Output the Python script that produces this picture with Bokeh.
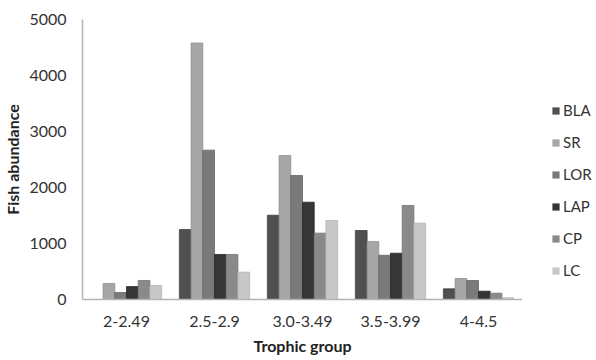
from bokeh.plotting import figure
from bokeh.models import ColumnDataSource, FactorRange, Range1d, Legend, LegendItem
from bokeh.layouts import row
from bokeh.transform import dodge
from bokeh.embed import file_html
from bokeh.resources import INLINE

groups = ["2-2.49", "2.5-2.9", "3.0-3.49", "3.5-3.99", "4-4.5"]
series = ["BLA", "SR", "LOR", "LAP", "CP", "LC"]
BLA = [0, 1250, 1505, 1232, 190]
SR = [286, 4580, 2571, 1036, 375]
LOR = [125, 2667, 2214, 791, 339]
LAP = [230, 804, 1738, 827, 148]
CP = [340, 804, 1185, 1679, 113]
LC = [250, 488, 1411, 1363, 30]
values = [BLA, SR, LOR, LAP, CP, LC]
y_ticks = [0, 1000, 2000, 3000, 4000, 5000]
colors = ["#505050", "#a6a6a6", "#7a7a7a", "#363636", "#8a8a8a", "#c8c8c8"]
edges = ["#404040", "#909090", "#666666", "#282828", "#747474", "#b2b2b2"]

data = {"group": groups}
for s, v in zip(series, values):
    data[s] = v
src = ColumnDataSource(data)

FONT = "Lato"
p = figure(x_range=FactorRange(*groups, range_padding=0), y_range=Range1d(0, 5000),
           width=522, height=360, output_backend="svg", toolbar_location=None,
           min_border_left=77, min_border_right=0, min_border_top=19, min_border_bottom=61)
p.x_range.range_padding = 0
p.outline_line_color = None
p.grid.visible = False
p.background_fill_color = "white"
p.border_fill_color = "white"

bw = 0.133
for i, (s, c, e) in enumerate(zip(series, colors, edges)):
    p.vbar(x=dodge("group", (i - 2.5) * bw, range=p.x_range), top=s, width=bw,
           source=src, fill_color=c, line_color=e, line_width=0.8)

for ax in (p.xaxis[0], p.yaxis[0]):
    ax.axis_line_color = "#b4b4b4"
    ax.axis_line_width = 1.5
    ax.major_tick_line_color = None
    ax.minor_tick_line_color = None
    ax.major_tick_out = 0
    ax.major_tick_in = 0
    ax.minor_tick_out = 0
    ax.major_label_text_font = FONT
    ax.major_label_text_font_size = "16px"
    ax.major_label_text_color = "#333333"
    ax.axis_label_text_font = FONT
    ax.axis_label_text_font_size = "16px"
    ax.axis_label_text_font_style = "bold"
    ax.axis_label_text_color = "#222222"

p.yaxis[0].ticker = y_ticks
p.yaxis[0].major_label_standoff = 16
p.yaxis[0].axis_label = "Fish abundance"
p.yaxis[0].axis_label_standoff = 4
p.xaxis[0].major_label_standoff = 16
p.xaxis[0].axis_label = "Trophic group"
p.xaxis[0].axis_label_standoff = 6

# legend panel (frames of the row are aligned, so its frame spans y 19..299)
q = figure(width=74, height=360, x_range=Range1d(0, 1), y_range=Range1d(0, 1),
           output_backend="svg", toolbar_location=None,
           x_axis_location=None, y_axis_location=None,
           min_border_left=0, min_border_right=0, min_border_top=0, min_border_bottom=0)
q.outline_line_color = None
q.grid.visible = False
q.border_fill_color = "white"
items = []
for s, c in zip(series, colors):
    # zero-size proxy renderer; only its legend swatch is visible
    r = q.vbar(x=[0.5], bottom=[0.5], top=[0.5], width=0,
               fill_color=c, line_color=None)
    items.append(LegendItem(label=s, renderers=[r]))

legend = Legend(items=items, location=(29, 19), orientation="vertical")
legend.border_line_color = None
legend.background_fill_alpha = 0
legend.padding = 0
legend.margin = 0
legend.spacing = 12
legend.glyph_width = 9
legend.glyph_height = 9
legend.label_height = 20
legend.label_standoff = 3
legend.label_text_font = FONT
legend.label_text_font_size = "15px"
legend.label_text_color = "#333333"
q.add_layout(legend, "center")

layout = row(p, q)
open("out.html", "w").write(file_html(layout, INLINE))
